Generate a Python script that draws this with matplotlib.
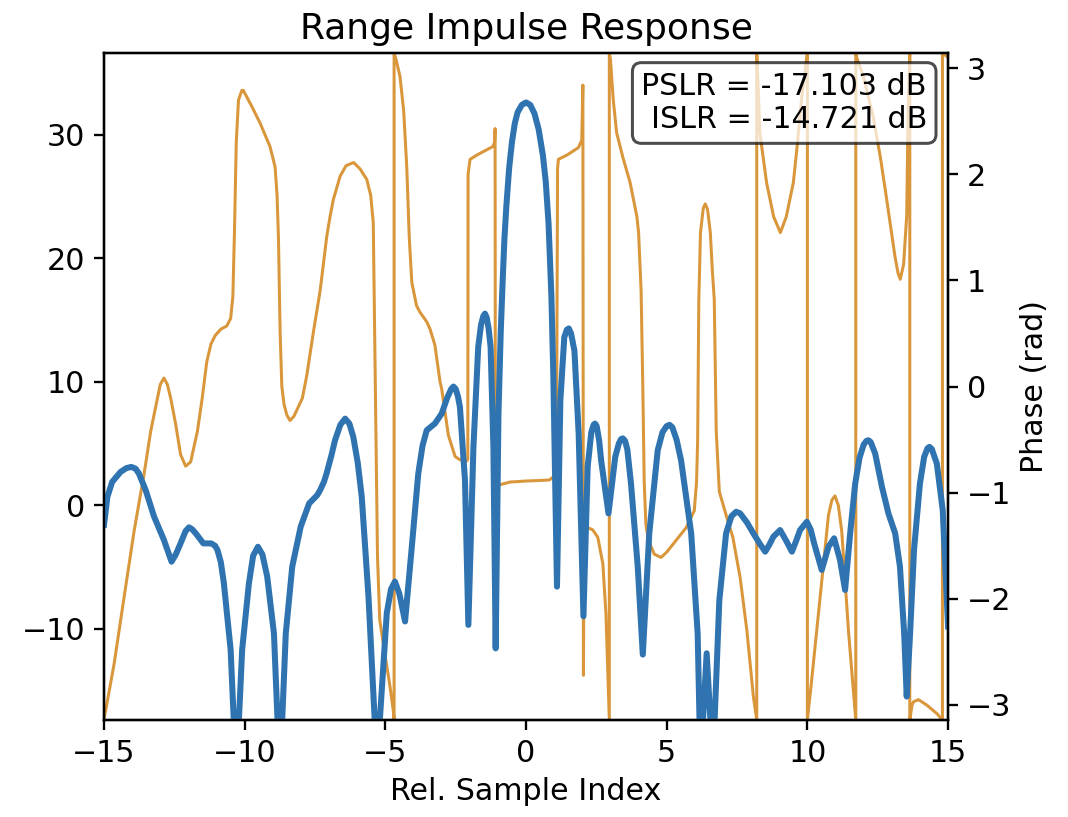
import numpy as np
import matplotlib
matplotlib.use("Agg")
import matplotlib.pyplot as plt

# ─── DATA ────────────────────────────────────────────────────────────────────
# magnitude of the range impulse response, dB
mag_x = [
    -15.0, -14.88, -14.71, -14.41, -14.2, -14.03, -13.88, -13.76, -13.52, -13.22,
    -12.87, -12.6, -12.45, -12.28, -12.1, -11.98, -11.87, -11.74, -11.47, -11.3,
    -11.19, -11.05, -10.97, -10.85, -10.74, -10.5, -10.3, -10.09, -9.85, -9.7,
    -9.53, -9.37, -9.2, -8.96, -8.75, -8.54, -8.31, -8.01, -7.71, -7.42,
    -7.32, -7.18, -7.09, -6.92, -6.79, -6.6, -6.43, -6.28, -6.14, -5.98,
    -5.84, -5.6, -5.3, -4.95, -4.8, -4.66, -4.5, -4.3, -4.06, -3.83,
    -3.68, -3.53, -3.24, -3.0, -2.8, -2.66, -2.58, -2.5, -2.42, -2.35,
    -2.17, -2.05, -1.87, -1.7, -1.6, -1.52, -1.46, -1.4, -1.33, -1.26,
    -1.16, -1.08, -0.98, -0.9, -0.83, -0.77, -0.7, -0.6, -0.5, -0.4,
    -0.3, -0.15, 0.0, 0.15, 0.3, 0.45, 0.6, 0.7, 0.8, 0.9,
    0.97, 1.02, 1.1, 1.22, 1.36, 1.45, 1.52, 1.6, 1.72, 1.87,
    2.04, 2.19, 2.32, 2.4, 2.45, 2.51, 2.6, 2.67, 2.93, 3.17,
    3.3, 3.38, 3.44, 3.52, 3.6, 3.73, 3.97, 4.15, 4.38, 4.68,
    4.85, 5.0, 5.1, 5.2, 5.35, 5.51, 5.87, 6.1, 6.2, 6.42,
    6.64, 6.87, 7.11, 7.3, 7.47, 7.61, 7.85, 8.08, 8.3, 8.5,
    8.65, 8.79, 9.03, 9.25, 9.45, 9.6, 9.74, 9.98, 10.12, 10.24,
    10.51, 10.75, 10.95, 11.16, 11.34, 11.52, 11.7, 11.85, 12.0, 12.1,
    12.17, 12.25, 12.41, 12.65, 12.88, 13.12, 13.29, 13.44, 13.53, 13.65,
    13.79, 14.0, 14.15, 14.27, 14.34, 14.42, 14.52, 14.6, 14.81, 15.0,
]
mag_db = [
    -1.6, 0.67, 1.88, 2.69, 3.0, 3.09, 2.95, 2.56, 1.21, -0.94,
    -2.83, -4.58, -4.0, -3.1, -2.1, -1.8, -1.95, -2.29, -3.1, -3.1,
    -3.1, -3.3, -3.63, -4.6, -6.33, -11.7, -22.0, -11.7, -6.33, -4.1,
    -3.37, -4.0, -5.79, -10.4, -22.0, -10.4, -4.98, -1.75, 0.13, 0.81,
    1.21, 1.9, 2.56, 4.0, 5.25, 6.5, 7.0, 6.6, 5.52, 3.4,
    0.67, -7.4, -21.0, -8.75, -6.8, -6.19, -7.2, -9.42, -3.37, 2.56,
    4.8, 6.06, 6.6, 7.4, 8.7, 9.4, 9.6, 9.4, 8.8, 7.94,
    2.0, -9.7, 4.7, 12.8, 14.6, 15.3, 15.5, 15.2, 14.3, 12.8,
    4.7, -11.6, 7.4, 14.0, 18.2, 21.5, 24.2, 27.3, 29.4, 30.9,
    31.8, 32.4, 32.6, 32.4, 31.7, 30.4, 28.3, 26.2, 22.8, 17.0,
    10.5, 4.0, -6.6, 8.5, 13.6, 14.2, 14.3, 13.9, 12.5, 5.8,
    -9.0, 3.1, 5.9, 6.5, 6.6, 6.4, 5.2, 3.6, -0.67, 3.9,
    5.0, 5.35, 5.4, 5.2, 4.5, 1.75, -4.98, -12.1, -2.29, 4.44,
    5.9, 6.4, 6.5, 6.3, 5.3, 3.63, -2.29, -10.4, -21.0, -12.0,
    -21.0, -7.7, -2.29, -0.9, -0.54, -0.67, -1.4, -2.29, -3.1, -3.77,
    -3.2, -2.56, -2.02, -2.9, -3.77, -2.9, -2.02, -1.35, -2.0, -3.1,
    -5.25, -3.37, -2.69, -4.44, -6.87, -2.29, 1.75, 3.8, 4.9, 5.2,
    5.25, 5.1, 4.17, 1.48, -0.67, -2.29, -4.98, -10.4, -15.5, -10.4,
    -3.63, 1.75, 3.9, 4.6, 4.71, 4.55, 3.9, 3.37, -0.4, -9.83,
]

# wrapped phase, rad (repeated x = wrap / jump)
ph_x = [
    -15.0, -14.94, -14.64, -14.29, -13.93, -13.58, -13.34, -13.1, -13.0, -12.87,
    -12.75, -12.63, -12.45, -12.28, -12.1, -11.92, -11.68, -11.51, -11.35, -11.2,
    -11.05, -10.85, -10.64, -10.5, -10.42, -10.36, -10.3, -10.22, -10.1, -10.05,
    -9.75, -9.45, -9.1, -8.92, -8.85, -8.8, -8.74, -8.68, -8.6, -8.5,
    -8.39, -8.25, -7.95, -7.79, -7.56, -7.32, -7.08, -6.96, -6.85, -6.61,
    -6.4, -6.13, -5.9, -5.66, -5.52, -5.43, -5.38, -5.33, -5.28, -5.2,
    -5.0, -4.85, -4.72, -4.69, -4.69, -4.62, -4.48, -4.35, -4.24, -4.15,
    -4.06, -3.89, -3.77, -3.53, -3.41, -3.24, -3.06, -3.0, -2.76, -2.52,
    -2.35, -2.1, -2.07, -2.06, -1.99, -1.75, -1.4, -1.18, -1.12, -1.1,
    -1.09, -1.0, -0.57, 0.0, 0.5, 0.83, 0.97, 1.08, 1.12, 1.15,
    1.45, 1.86, 1.98, 2.02, 2.04, 2.06, 2.2, 2.37, 2.55, 2.73,
    2.84, 2.94, 2.96, 2.96, 3.0, 3.1, 3.22, 3.45, 3.7, 3.94,
    4.0, 4.09, 4.15, 4.2, 4.26, 4.35, 4.56, 4.8, 5.0, 5.21,
    5.45, 5.69, 5.98, 6.06, 6.1, 6.14, 6.2, 6.3, 6.37, 6.45,
    6.55, 6.62, 6.69, 6.76, 6.87, 7.11, 7.35, 7.61, 7.85, 8.08,
    8.2, 8.2, 8.26, 8.31, 8.55, 8.8, 9.04, 9.25, 9.5, 9.65,
    9.79, 9.95, 10.0, 10.0, 10.15, 10.45, 10.75, 10.87, 10.98, 11.1,
    11.22, 11.46, 11.7, 11.72, 11.72, 11.75, 11.99, 12.34, 12.6, 12.82,
    13.11, 13.22, 13.3, 13.42, 13.53, 13.58, 13.64, 13.64, 13.72, 13.77,
    13.95, 14.24, 14.6, 14.8, 14.8, 15.0,
]
ph_rad = [
    -3.12, -3.05, -2.61, -1.99, -1.36, -0.83, -0.42, -0.11, 0.02, 0.08,
    0.02, -0.11, -0.36, -0.64, -0.75, -0.71, -0.42, -0.11, 0.23, 0.4,
    0.48, 0.54, 0.57, 0.64, 0.85, 1.5, 2.3, 2.7, 2.79, 2.79,
    2.64, 2.48, 2.26, 2.07, 1.8, 1.4, 0.5, 0.0, -0.17, -0.27,
    -0.32, -0.28, -0.11, 0.11, 0.51, 0.9, 1.42, 1.61, 1.76, 1.98,
    2.08, 2.11, 2.05, 1.95, 1.8, 1.54, 0.5, -0.5, -1.6, -2.2,
    -2.55, -2.8, -3.05, -3.1416, 3.1416, 3.08, 2.92, 2.6, 2.07, 1.4,
    0.98, 0.76, 0.70, 0.61, 0.54, 0.39, 0.05, -0.02, -0.46, -0.66,
    -0.69, -0.7, -0.68, 2.0, 2.14, 2.18, 2.23, 2.26, 2.3, 2.43,
    -0.92, -0.93, -0.9, -0.89, -0.885, -0.88, -0.85, -0.8, 2.05, 2.14,
    2.18, 2.25, 2.32, 2.84, -2.72, -1.4, -1.33, -1.35, -1.42, -1.67,
    -2.14, -2.99, -3.1416, 3.1416, 3.08, 2.7, 2.39, 2.15, 1.92, 1.6,
    1.45, 0.9, 0.0, -0.9, -1.3, -1.45, -1.58, -1.61, -1.56, -1.49,
    -1.41, -1.33, -1.17, -0.9, -0.5, 0.8, 1.45, 1.68, 1.72, 1.67,
    1.45, 1.1, 0.82, -0.42, -0.99, -1.21, -1.42, -1.8, -2.3, -2.92,
    -3.1416, 3.1416, 2.75, 2.39, 1.92, 1.6, 1.45, 1.6, 1.92, 2.3,
    2.7, 3.05, 3.1416, -3.1416, -2.77, -1.99, -1.21, -1.07, -1.03, -1.12,
    -1.36, -2.3, -3.08, -3.1416, 3.1416, 3.1, 2.92, 2.54, 2.15, 1.76,
    1.23, 1.07, 1.01, 1.15, 1.61, 2.6, 3.1416, -3.1416, -3.0, -2.97,
    -2.95, -3.0, -3.08, -3.1416, 3.1416, 3.1,
]

PSLR = -17.103
ISLR = -14.721

BLUE = "#2f74b0"
ORANGE = "#d9963a"

# ─── FIGURE ──────────────────────────────────────────────────────────────────
plt.rcParams["font.size"] = 13

DPI = 167
fig = plt.figure(figsize=(1068 / DPI, 817 / DPI), dpi=DPI)
ax1 = fig.add_axes([0.0974, 0.1187, 0.7903, 0.8164])
ax2 = ax1.twinx()

ax2.plot(ph_x, ph_rad, color=ORANGE, lw=1.3)
ax1.plot(mag_x, mag_db, color=BLUE, lw=2.6)

# blue on top of the twin axis
ax1.set_zorder(ax2.get_zorder() + 1)
ax1.patch.set_visible(False)

ax1.set_xlim(-15, 15)
ax1.set_ylim(max(mag_db) - 50, max(mag_db) + 4)
ax2.set_ylim(-np.pi, np.pi)

for ax in (ax1, ax2):
    ax.tick_params(width=1.0, length=4.5)
    for sp in ax.spines.values():
        sp.set_linewidth(1.0)

ax1.set_xlabel("Rel. Sample Index")
ax2.set_ylabel("Phase (rad)")
ax1.set_title("Range Impulse Response", fontsize=15.6)

ax1.text(0.975, 0.972, f"PSLR = {PSLR:.3f} dB\nISLR = {ISLR:.3f} dB",
         transform=ax1.transAxes, ha="right", va="top", fontsize=13,
         multialignment="right",
         bbox=dict(boxstyle="round", facecolor="white", alpha=0.7, lw=1.3))

fig.savefig("out.png", dpi=DPI)
